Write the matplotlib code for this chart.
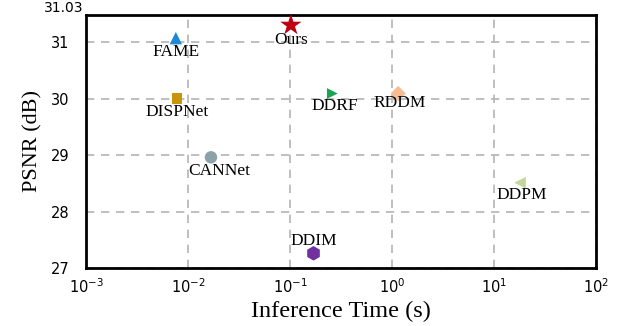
import matplotlib
matplotlib.use('Agg')
import matplotlib.pyplot as plt

plt.rcParams['font.family'] = 'Liberation Serif'
plt.rcParams['mathtext.fontset'] = 'dejavusans'

methods = ['FAME', 'Ours', 'DISPNet', 'CANNet', 'DDRF', 'RDDM', 'DDPM', 'DDIM']
times = [0.0076, 0.102, 0.0078, 0.0168, 0.26, 1.15, 18.0, 0.17]
psnr = [31.07, 31.30, 30.00, 28.96, 30.09, 30.09, 28.51, 27.26]
markers = ['^', '*', 's', 'o', '>', 'D', '<', 'h']
colors = ['#1e88d8', '#c00010', '#c8940c', '#8aa2a8', '#18a552', '#f6bc94', '#c3d69b', '#7030a0']
sizes = [80, 260, 60, 80, 60, 60, 70, 110]
# label offsets in points (dx, dy)
offsets = [(0, -10), (0, -11), (0, -10), (6, -10), (2, -9), (1, -7), (1, -9), (0, 9)]
yticks = [27, 28, 29, 30, 31]

fig = plt.figure(figsize=(6.19, 3.26), dpi=100)
ax = fig.add_axes([86/619, 1 - 268/326, 510/619, 253/326])

for m, t, p, mk, c, s, off in zip(methods, times, psnr, markers, colors, sizes, offsets):
    ax.scatter(t, p, marker=mk, s=s, c=c, edgecolors='none', zorder=3)
    ax.annotate(m, (t, p), xytext=off, textcoords='offset points',
                ha='center', va='center', fontsize=12.5, zorder=4)

ax.set_xscale('log')
ax.set_xlim(1e-3, 1e2)
ax.set_ylim(27, 31.48)
ax.set_yticks(yticks)
ax.set_yticklabels([str(v) for v in yticks])
ax.minorticks_off()
ax.tick_params(length=0, labelsize=10.5, pad=12)
ax.tick_params(axis='x', pad=7)
for lbl in ax.get_yticklabels() + ax.get_xticklabels():
    lbl.set_family('DejaVu Sans')
ax.grid(True, ls=(0, (5, 4)), color='#b4b4b4', lw=1.2)
ax.set_axisbelow(True)
for sp in ax.spines.values():
    sp.set_linewidth(2)

ax.text(-0.005, 1.0, '31.03', transform=ax.transAxes, ha='right', va='bottom',
        fontsize=10, family='DejaVu Sans')

ax.set_xlabel('Inference Time (s)', fontsize=17.5, labelpad=3)
ax.set_ylabel('PSNR (dB)', fontsize=16, labelpad=6)

fig.savefig('out.png', dpi=100)
